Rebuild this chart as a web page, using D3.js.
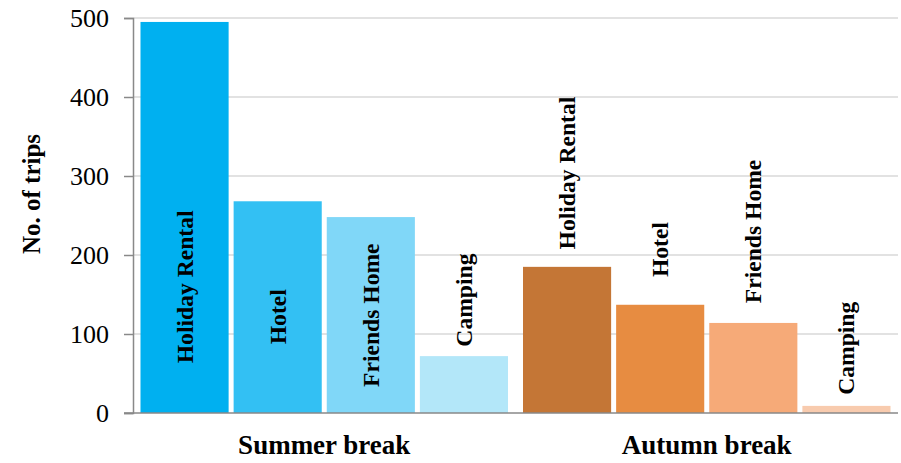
<!DOCTYPE html>
<html>
<head>
<meta charset="utf-8">
<script src="https://cdn.jsdelivr.net/npm/d3@7"></script>
<style>
  html, body { margin: 0; padding: 0; background: #fff; }
  svg { display: block; }
  svg text { font-family: "Liberation Serif", "Times New Roman", Times, serif !important; fill: #000; }
</style>
</head>
<body>
<svg id="chart" width="901" height="463" font-family="Liberation Serif, serif"></svg>
<script>
// ---- data ----
const groups = ["Summer break", "Autumn break"];
const categories = ["Holiday Rental", "Hotel", "Friends Home", "Camping"];
const summerValues = [495, 268, 248, 72];
const autumnValues = [185, 137, 114, 9];
const yTicks = [0, 100, 200, 300, 400, 500];
const yTitle = "No. of trips";
const summerColors = ["#00B0F0", "#33C0F3", "#80D7F8", "#B3E7F9"];
const autumnColors = ["#C47636", "#E78C41", "#F6AA78", "#F8CBAE"];

// ---- layout ----
const plotLeft = 133, plotRight = 898, plotTop = 18, plotBottom = 413;
// where each rotated label begins (in value units, as placed in the original)
const summerLabelStart = [63, 87, 33, 84];
const autumnLabelStart = [207, 172, 139, 23];

const seriesValues = [summerValues, autumnValues];
const seriesColors = [summerColors, autumnColors];
const labelStarts = [summerLabelStart, autumnLabelStart];

const svg = d3.select("#chart");

const y = d3.scaleLinear().domain([0, 500]).range([plotBottom, plotTop]);
const x0 = d3.scaleBand().domain(groups).range([plotLeft, plotRight]).padding(0);
const x1 = d3.scaleBand().domain(categories)
  .range([7.5, x0.bandwidth() - 7.5]).paddingInner(5 / 93).paddingOuter(0);

// gridlines
svg.append("g").selectAll("line")
  .data(yTicks.filter(d => d > 0))
  .join("line")
  .attr("x1", plotLeft).attr("x2", plotRight)
  .attr("y1", d => y(d)).attr("y2", d => y(d))
  .attr("stroke", "#d9d9d9").attr("stroke-width", 1.5);

// bars
const data = [];
groups.forEach((g, gi) => {
  categories.forEach((c, ci) => {
    data.push({ g, c, v: seriesValues[gi][ci], color: seriesColors[gi][ci], ls: labelStarts[gi][ci] });
  });
});

svg.append("g").selectAll("rect")
  .data(data)
  .join("rect")
  .attr("x", d => x0(d.g) + x1(d.c))
  .attr("width", x1.bandwidth())
  .attr("y", d => y(d.v))
  .attr("height", d => y(0) - y(d.v))
  .attr("fill", d => d.color);

// y axis
const yAxis = d3.axisLeft(y).tickValues(yTicks).tickSize(9).tickPadding(15).tickFormat(d3.format("d"));
const gy = svg.append("g").attr("transform", `translate(${plotLeft},0)`).call(yAxis)
  .attr("font-family", "Liberation Serif, serif").attr("font-size", 26);
gy.select(".domain").attr("stroke", "#898989").attr("stroke-width", 1.5);
gy.selectAll(".tick line").attr("stroke", "#898989").attr("stroke-width", 1.5);
gy.selectAll(".tick text").style("font-size", "26px").attr("fill", "#000");

// x axis baseline
svg.append("line")
  .attr("x1", plotLeft - 9).attr("x2", plotRight)
  .attr("y1", y(0)).attr("y2", y(0))
  .attr("stroke", "#898989").attr("stroke-width", 1.5);

// group labels
svg.append("g").selectAll("text")
  .data(groups)
  .join("text")
  .attr("x", d => x0(d) + x0.bandwidth() / 2)
  .attr("y", 454)
  .attr("text-anchor", "middle")
  .style("font-size", "27px").style("font-weight", "bold")
  .text(d => d);

// rotated category labels
svg.append("g").selectAll("text")
  .data(data)
  .join("text")
  .attr("transform", d => `translate(${x0(d.g) + x1(d.c) + x1.bandwidth() / 2 + 8},${y(d.ls)}) rotate(-90)`)
  .attr("text-anchor", "start")
  .style("font-size", "23.6px").style("font-weight", "bold")
  .text(d => d.c);

// y title
svg.append("text")
  .attr("transform", `translate(40,194) rotate(-90)`)
  .attr("text-anchor", "middle")
  .style("font-size", "25px").style("font-weight", "bold")
  .text(yTitle);
</script>
</body>
</html>
